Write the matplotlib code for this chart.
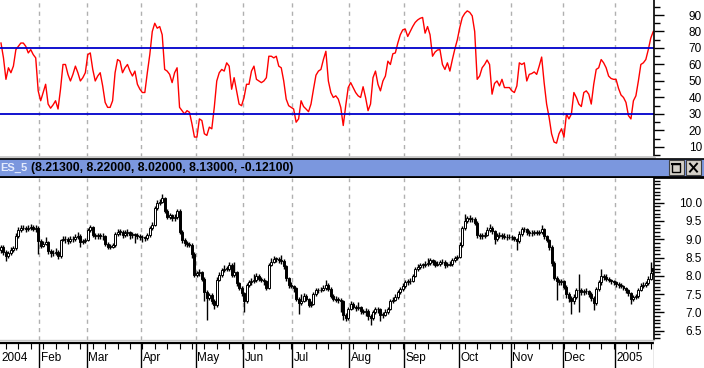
import matplotlib.pyplot as plt
from matplotlib.patches import Rectangle
from matplotlib.ticker import MultipleLocator
import numpy as np

plt.rcParams['font.family'] = ['Liberation Sans', 'DejaVu Sans']

# Indikator (garis merah, panel atas) - satu nilai per hari bursa
rsi = [73, 64, 51, 58, 55, 59, 69, 71, 73, 73,
       71, 67, 69, 66, 64, 44, 38, 43, 48, 36,
       33.5, 35.5, 38, 33, 45, 60, 60, 54, 50, 54,
       59, 55, 50, 52, 55, 66, 67, 57, 50, 53,
       55, 47, 37, 34, 34, 38, 55, 63, 62, 55,
       58, 60, 56, 53, 56, 48, 45, 43, 43, 55,
       66, 80, 85, 82, 83, 78, 57, 56, 54, 49,
       55, 58, 34, 32, 30, 32, 31, 24, 16, 16,
       27, 26, 18, 17, 22, 21, 34, 50, 55, 57,
       56, 61, 59, 45, 52, 44, 36, 35, 40, 48,
       48, 56, 59, 51, 50, 49, 50, 52, 65, 65,
       64, 65, 59, 58, 50, 39, 35, 34, 33, 25,
       27, 38, 34.5, 33, 31.4, 36, 45, 53.5, 56, 57,
       63, 68, 50, 43, 40, 41, 39, 34, 23, 35,
       46, 49, 46, 43, 41, 40, 46.5, 40, 32, 36,
       52, 56, 48, 44, 50, 53, 62, 60, 66.5, 67,
       73, 78, 81, 81.5, 77, 80, 83, 85.5, 87, 88,
       88.5, 79, 83, 78, 65, 67.5, 68.8, 69, 60, 57,
       61, 56, 63, 69.4, 75, 82.5, 88.5, 91, 92.5, 91.6,
       89.5, 80, 51, 53, 58, 60, 62.7, 60, 42, 48.5,
       50, 47, 51, 46, 46, 46, 44, 43, 47, 61,
       60, 61, 50, 54, 54.5, 55.5, 54, 59, 64.5, 49,
       36, 28, 18, 13, 12.3, 18, 21, 16, 30, 27,
       30, 43, 40, 36, 34.5, 43, 44, 42, 36, 48,
       57, 58, 63, 61, 58, 53, 51.5, 51, 51, 45.5,
       41.5, 40, 37, 29, 27, 38, 41, 50, 60, 61,
       63, 69, 76, 80]

# Harga ES_5 (candlestick, panel bawah)
opens = [8.72, 8.78, 8.66, 8.55, 8.62, 8.70, 8.75, 9.10, 9.25, 9.32,
         9.30, 9.28, 9.30, 9.34, 9.29, 9.32, 8.95, 8.82, 8.88, 8.92,
         8.68, 8.63, 8.62, 8.66, 8.54, 8.98, 9.02, 9.00, 8.94, 9.00,
         9.02, 9.06, 9.10, 8.92, 8.95, 8.98, 9.25, 9.33, 9.12, 9.10,
         9.12, 9.10, 9.08, 8.88, 8.80, 8.80, 8.84, 9.15, 9.20, 9.20,
         9.13, 9.16, 9.19, 9.12, 9.13, 9.12, 9.10, 9.07, 9.05, 9.04,
         9.12, 9.30, 9.40, 9.85, 10.00, 10.03, 10.12, 9.78, 9.62, 9.65,
         9.58, 9.60, 9.78, 9.20, 8.98, 8.90, 8.88, 8.85, 8.60, 8.02,
         8.07, 8.10, 7.92, 7.55, 7.40, 7.47, 7.30, 7.20, 7.90, 8.02,
         8.15, 8.20, 8.20, 8.30, 8.02, 8.10, 7.80, 7.68, 7.52, 7.30,
         7.75, 7.82, 7.86, 7.88, 8.00, 7.92, 7.88, 7.86, 7.68, 8.30,
         8.39, 8.46, 8.47, 8.43, 8.40, 8.27, 7.93, 7.75, 7.72, 7.66,
         7.38, 7.25, 7.32, 7.45, 7.36, 7.20, 7.24, 7.50, 7.60, 7.61,
         7.62, 7.66, 7.76, 7.65, 7.46, 7.38, 7.35, 7.34, 7.30, 6.92,
         6.85, 7.10, 7.24, 7.15, 7.11, 7.14, 7.05, 7.02, 7.03, 6.90,
         6.84, 7.00, 7.08, 7.08, 6.93, 6.94, 7.00, 7.10, 7.30, 7.35,
         7.43, 7.55, 7.64, 7.72, 7.84, 7.85, 7.87, 8.00, 8.18, 8.25,
         8.30, 8.30, 8.32, 8.36, 8.42, 8.38, 8.30, 8.33, 8.37, 8.38,
         8.30, 8.31, 8.33, 8.42, 8.48, 8.52, 8.85, 9.30, 9.50, 9.57,
         9.56, 9.55, 9.45, 9.12, 9.10, 9.10, 9.13, 9.25, 9.32, 9.22,
         9.02, 9.10, 9.12, 9.10, 9.07, 9.06, 9.07, 9.05, 9.00, 8.95,
         9.15, 9.28, 9.27, 9.20, 9.16, 9.18, 9.19, 9.18, 9.20, 9.28,
         9.08, 8.98, 8.80, 8.35, 7.95, 7.85, 7.84, 7.85, 7.70, 7.50,
         7.40, 7.30, 7.42, 7.60, 7.62, 7.55, 7.58, 7.58, 7.50, 7.40,
         7.25, 7.64, 7.82, 8.00, 7.98, 7.92, 7.89, 7.85, 7.82, 7.78,
         7.75, 7.72, 7.68, 7.60, 7.52, 7.38, 7.42, 7.44, 7.62, 7.72,
         7.76, 7.80, 7.92, 8.213]

highs = [8.84, 8.84, 8.72, 8.68, 8.78, 8.82, 9.16, 9.34, 9.40, 9.38,
         9.36, 9.38, 9.42, 9.38, 9.40, 9.36, 9.00, 8.96, 9.05, 8.96,
         8.74, 8.70, 8.75, 8.70, 9.02, 9.08, 9.10, 9.06, 9.10, 9.08,
         9.14, 9.20, 9.14, 9.02, 9.04, 9.30, 9.40, 9.36, 9.18, 9.18,
         9.16, 9.16, 9.12, 8.92, 8.86, 8.90, 9.20, 9.28, 9.28, 9.26,
         9.24, 9.28, 9.22, 9.20, 9.18, 9.18, 9.14, 9.12, 9.10, 9.18,
         9.36, 9.46, 9.92, 10.06, 10.10, 10.25, 10.16, 9.82, 9.72, 9.70,
         9.68, 9.84, 9.82, 9.24, 9.04, 8.96, 8.92, 8.90, 8.64, 8.14,
         8.18, 8.14, 7.96, 7.60, 7.54, 7.52, 7.36, 7.96, 8.10, 8.22,
         8.30, 8.28, 8.38, 8.34, 8.38, 8.14, 7.84, 7.72, 7.56, 7.80,
         7.90, 7.94, 8.06, 8.08, 8.04, 7.96, 7.94, 7.90, 8.36, 8.50,
         8.54, 8.52, 8.52, 8.56, 8.46, 8.30, 7.98, 7.82, 7.76, 7.70,
         7.42, 7.50, 7.52, 7.50, 7.40, 7.30, 7.56, 7.66, 7.68, 7.70,
         7.74, 7.88, 7.80, 7.70, 7.50, 7.44, 7.42, 7.40, 7.34, 6.98,
         7.16, 7.30, 7.28, 7.20, 7.28, 7.18, 7.10, 7.12, 7.08, 6.96,
         7.06, 7.16, 7.14, 7.12, 7.02, 7.08, 7.16, 7.36, 7.42, 7.50,
         7.62, 7.70, 7.80, 7.90, 7.92, 7.94, 8.06, 8.24, 8.32, 8.36,
         8.36, 8.40, 8.48, 8.48, 8.46, 8.42, 8.40, 8.44, 8.46, 8.42,
         8.38, 8.40, 8.48, 8.54, 8.58, 8.92, 9.36, 9.70, 9.64, 9.66,
         9.62, 9.60, 9.50, 9.18, 9.16, 9.20, 9.34, 9.42, 9.36, 9.26,
         9.18, 9.20, 9.16, 9.16, 9.14, 9.14, 9.12, 9.10, 9.04, 9.22,
         9.34, 9.34, 9.30, 9.24, 9.24, 9.24, 9.24, 9.26, 9.40, 9.32,
         9.12, 9.02, 8.84, 8.40, 8.00, 7.92, 7.92, 7.90, 7.74, 7.56,
         7.46, 7.50, 7.66, 8.05, 7.68, 7.64, 7.66, 7.62, 7.56, 7.44,
         7.70, 7.90, 8.20, 8.06, 8.04, 7.96, 7.92, 7.90, 7.86, 7.84,
         7.80, 7.76, 7.70, 7.64, 7.56, 7.48, 7.50, 7.68, 7.80, 7.84,
         7.86, 8.00, 8.38, 8.22]

lows = [8.62, 8.58, 8.40, 8.48, 8.56, 8.64, 8.70, 9.04, 9.20, 9.24,
        9.20, 9.22, 9.24, 9.22, 9.20, 8.60, 8.76, 8.78, 8.84, 8.60,
        8.52, 8.55, 8.56, 8.46, 8.50, 8.94, 8.90, 8.86, 8.90, 8.92,
        8.96, 9.00, 8.80, 8.86, 8.90, 8.94, 9.20, 9.06, 9.00, 9.02,
        9.00, 8.98, 8.82, 8.74, 8.74, 8.76, 8.80, 9.10, 9.12, 9.04,
        9.06, 9.10, 9.02, 9.04, 8.90, 9.02, 8.98, 8.92, 8.96, 8.98,
        9.06, 9.26, 9.36, 9.80, 9.95, 9.98, 9.72, 9.56, 9.56, 9.50,
        9.50, 9.55, 9.14, 8.90, 8.82, 8.80, 8.78, 8.50, 7.96, 7.96,
        8.00, 7.86, 7.30, 6.79, 7.34, 7.22, 7.10, 7.16, 7.86, 7.98,
        8.10, 8.12, 8.14, 7.96, 7.98, 7.72, 7.60, 7.44, 7.02, 7.26,
        7.70, 7.76, 7.80, 7.84, 7.86, 7.82, 7.76, 7.60, 7.64, 8.26,
        8.34, 8.38, 8.36, 8.32, 8.20, 7.86, 7.68, 7.66, 7.56, 7.30,
        6.95, 7.20, 7.28, 7.30, 7.14, 7.16, 7.20, 7.46, 7.54, 7.56,
        7.58, 7.60, 7.58, 7.40, 7.32, 7.28, 7.26, 7.00, 6.80, 6.76,
        6.80, 7.06, 7.08, 7.04, 7.06, 6.96, 6.96, 6.90, 6.80, 6.66,
        6.80, 6.96, 6.98, 6.76, 6.86, 6.90, 6.96, 7.06, 7.26, 7.30,
        7.38, 7.50, 7.58, 7.66, 7.76, 7.78, 7.82, 7.96, 8.12, 8.20,
        8.22, 8.24, 8.26, 8.30, 8.30, 8.24, 8.26, 8.28, 8.32, 8.22,
        8.24, 8.26, 8.28, 8.38, 8.44, 8.48, 8.80, 9.26, 9.44, 9.48,
        9.48, 9.38, 9.04, 9.02, 9.02, 9.04, 9.08, 9.20, 9.14, 8.88,
        8.96, 9.04, 9.02, 9.00, 8.98, 9.00, 8.98, 8.94, 8.72, 8.90,
        9.10, 9.20, 9.12, 9.10, 9.10, 9.12, 9.12, 9.12, 9.14, 9.02,
        8.92, 8.72, 8.26, 7.88, 7.34, 7.76, 7.76, 7.64, 7.40, 7.28,
        6.95, 7.22, 7.36, 7.00, 7.48, 7.48, 7.50, 7.42, 7.30, 7.06,
        7.20, 7.58, 7.76, 7.90, 7.86, 7.82, 7.78, 7.74, 7.70, 7.68,
        7.66, 7.60, 7.52, 7.44, 7.24, 7.30, 7.36, 7.40, 7.58, 7.66,
        7.70, 7.74, 7.88, 8.02]

closes = [8.78, 8.66, 8.55, 8.62, 8.70, 8.75, 9.10, 9.25, 9.32, 9.30,
          9.28, 9.30, 9.34, 9.29, 9.32, 8.95, 8.82, 8.88, 8.92, 8.68,
          8.63, 8.62, 8.66, 8.54, 8.98, 9.02, 9.00, 8.94, 9.00, 9.02,
          9.06, 9.10, 8.92, 8.95, 8.98, 9.25, 9.33, 9.12, 9.10, 9.12,
          9.10, 9.08, 8.88, 8.80, 8.80, 8.84, 9.15, 9.20, 9.20, 9.13,
          9.16, 9.19, 9.12, 9.13, 9.12, 9.10, 9.07, 9.05, 9.04, 9.12,
          9.30, 9.40, 9.85, 10.00, 10.03, 10.12, 9.78, 9.62, 9.65, 9.58,
          9.60, 9.78, 9.20, 8.98, 8.90, 8.88, 8.85, 8.60, 8.02, 8.07,
          8.10, 7.92, 7.55, 7.40, 7.47, 7.30, 7.20, 7.90, 8.02, 8.15,
          8.20, 8.20, 8.30, 8.02, 8.10, 7.80, 7.68, 7.52, 7.30, 7.75,
          7.82, 7.86, 7.88, 8.00, 7.92, 7.88, 7.86, 7.68, 8.30, 8.39,
          8.46, 8.47, 8.43, 8.40, 8.27, 7.93, 7.75, 7.72, 7.66, 7.38,
          7.25, 7.32, 7.45, 7.36, 7.20, 7.24, 7.50, 7.60, 7.61, 7.62,
          7.66, 7.76, 7.65, 7.46, 7.38, 7.35, 7.34, 7.30, 6.92, 6.85,
          7.10, 7.24, 7.15, 7.11, 7.14, 7.05, 7.02, 7.03, 6.90, 6.84,
          7.00, 7.08, 7.08, 6.93, 6.94, 7.00, 7.10, 7.30, 7.35, 7.43,
          7.55, 7.64, 7.72, 7.84, 7.85, 7.87, 8.00, 8.18, 8.25, 8.30,
          8.30, 8.32, 8.36, 8.42, 8.38, 8.30, 8.33, 8.37, 8.38, 8.30,
          8.31, 8.33, 8.42, 8.48, 8.52, 8.85, 9.30, 9.50, 9.57, 9.56,
          9.55, 9.45, 9.12, 9.10, 9.10, 9.13, 9.25, 9.32, 9.22, 9.02,
          9.10, 9.12, 9.10, 9.07, 9.06, 9.07, 9.05, 9.00, 8.95, 9.15,
          9.28, 9.27, 9.20, 9.16, 9.18, 9.19, 9.18, 9.20, 9.28, 9.08,
          8.98, 8.80, 8.35, 7.95, 7.85, 7.84, 7.85, 7.70, 7.50, 7.40,
          7.30, 7.42, 7.60, 7.62, 7.55, 7.58, 7.58, 7.50, 7.40, 7.25,
          7.64, 7.82, 8.00, 7.98, 7.92, 7.89, 7.85, 7.82, 7.78, 7.75,
          7.72, 7.68, 7.60, 7.52, 7.38, 7.42, 7.44, 7.62, 7.72, 7.76,
          7.80, 7.92, 8.08, 8.13]

# Label bulan dan indeks hari bursa pertama tiap bulan
months = ['Feb', 'Mar', 'Apr', 'May', 'Jun', 'Jul', 'Aug', 'Sep', 'Oct', 'Nov', 'Dec', '2005']
month_start = [16, 35, 57, 79, 98, 118, 141, 163, 185, 206, 227, 248]
first_label = '2004'

rsi_ticks = [10, 20, 30, 40, 50, 60, 70, 80, 90]
price_ticks = [6.5, 7.0, 7.5, 8.0, 8.5, 9.0, 9.5, 10.0]

title_name = 'ES_5'
title_vals = '(8.21300, 8.22000, 8.02000, 8.13000, -0.12100)'

W, H = 704, 368
fig = plt.figure(figsize=(W / 100, H / 100), dpi=100)


def box(x0, y0, x1, y1):
    # kotak dalam piksel, diukur dari kiri atas
    return [x0 / W, 1 - y1 / H, (x1 - x0) / W, (y1 - y0) / H]


xlim = (-0.4, 263.3)
grid_x = [m - 0.5 for m in month_start]
grid_kw = dict(color='#b0b0b0', lw=1, ls=(0, (3, 3)), zorder=0)


def right_axis(ax, ticks, minor, fmt):
    ax.yaxis.tick_right()
    ax.set_yticks(ticks)
    ax.set_yticklabels([fmt.format(t) for t in ticks])
    ax.yaxis.set_minor_locator(MultipleLocator(minor))
    ax.tick_params(axis='y', which='major', direction='out', length=7, width=1,
                   pad=27.5, labelsize=8.5)
    ax.tick_params(axis='y', which='minor', direction='out', length=4, width=1)
    for lbl in ax.get_yticklabels():
        lbl.set_ha('right')
    ax.set_xticks([])
    for s in ['left', 'top']:
        ax.spines[s].set_visible(False)
    ax.spines['right'].set_linewidth(1.2)


# Panel atas: indikator
ax1 = fig.add_axes(box(0, 0, 654, 157))
ax1.plot(np.arange(len(rsi)), rsi, color='#ff0000', lw=1)
ax1.axhline(70, color='#0000cc', lw=1.3)
ax1.axhline(30, color='#0000cc', lw=1.3)
for gx in grid_x:
    ax1.axvline(gx, **grid_kw)
ax1.set_xlim(xlim)
ax1.set_ylim(3.9, 99.1)
right_axis(ax1, rsi_ticks, 5, '{:.0f}')
ax1.spines['bottom'].set_color('#c8c8c8')
ax1.spines['bottom'].set_linewidth(2)

# Bilah judul
axt = fig.add_axes(box(0, 159, 704, 177))
axt.set_facecolor('#7b97de')
axt.set_xlim(0, W)
axt.set_ylim(0, 1)
axt.set_xticks([])
axt.set_yticks([])
for s in ['left', 'right']:
    axt.spines[s].set_visible(False)
axt.spines['top'].set_linewidth(1.2)
axt.spines['bottom'].set_linewidth(2)
axt.text(0, 0.5, title_name, color='#e4ebfc', fontsize=8, fontweight='bold', va='center')
axt.text(31, 0.5, title_vals, color='black', fontsize=8.8, fontweight='bold', va='center')
for bx in [669, 686]:
    axt.add_patch(Rectangle((bx, 0.12), 15, 0.8, facecolor='#d4d0c8', edgecolor='#404040', lw=0.8))
axt.add_patch(Rectangle((672, 0.3), 8, 0.45, facecolor='none', edgecolor='black', lw=1))
axt.plot([672, 680], [0.72, 0.72], color='black', lw=1.5)
axt.plot([690, 697], [0.3, 0.74], color='black', lw=1.4)
axt.plot([690, 697], [0.74, 0.3], color='black', lw=1.4)

# Panel bawah: candlestick harga
ax2 = fig.add_axes(box(0, 178, 654, 340))
x = np.arange(len(closes))
o = np.array(opens)
c = np.array(closes)
up = c >= o
body_lo = np.minimum(o, c)
body_h = np.maximum(np.abs(c - o), 0.015)
ax2.vlines(x, lows, highs, color='black', lw=1, zorder=2)
ax2.bar(x, body_h, bottom=body_lo, width=0.8,
        color=np.where(up, 'white', 'black'), edgecolor='black', lw=0.7, zorder=3)
for gx in grid_x:
    ax2.axvline(gx, **grid_kw)
ax2.set_xlim(xlim)
ax2.set_ylim(6.246, 10.675)
right_axis(ax2, price_ticks, 0.1, '{:.1f}')
ax2.spines['bottom'].set_color('#c8c8c8')
ax2.spines['bottom'].set_linewidth(1)

# Sumbu waktu
ax3 = fig.add_axes(box(0, 340, 654, 368))
ax3.set_xlim(xlim)
ax3.set_ylim(0, 1)
ax3.axis('off')
ax3.axhline(0.88, color='black', lw=1.6)
ax3.vlines(np.arange(2, 264, 5), 0.68, 0.88, color='black', lw=0.8)
ax3.vlines(grid_x, 0, 0.88, color='black', lw=1)
ax3.axvline(263.3, color='#909090', lw=1)
ax3.text(0.0, 0.36, first_label, fontsize=8.5, va='center', ha='left')
for gx, lab in zip(grid_x, months):
    ax3.text(gx + 0.7, 0.36, lab, fontsize=8.5, va='center', ha='left')

fig.savefig('out.png', dpi=100)
